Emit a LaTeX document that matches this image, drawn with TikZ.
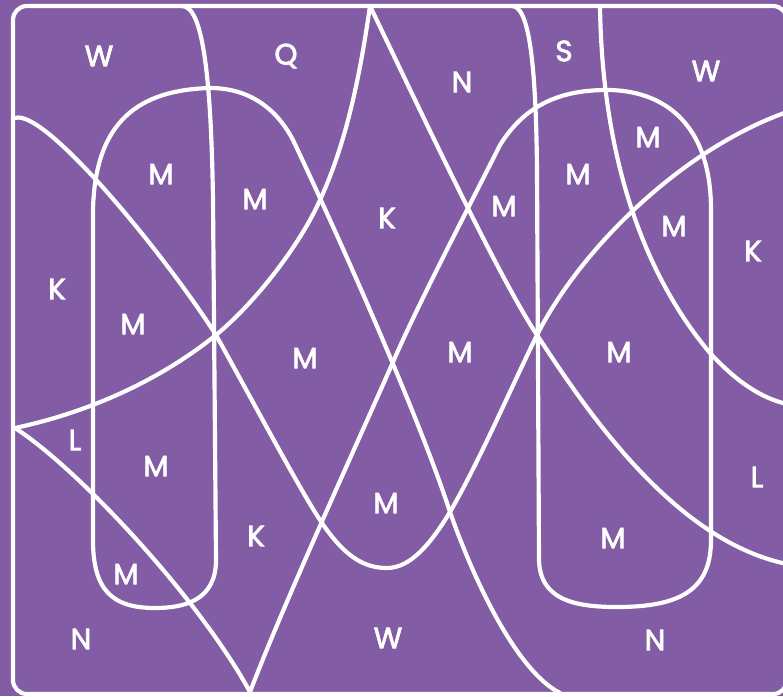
\documentclass[tikz,border=0pt]{standalone}
\usepackage{fontspec}
\setmainfont{Poppins}
\newfontfamily\regionfont{Poppins}[FakeBold=2.5]
\definecolor{mapviolet}{RGB}{130,92,164}
\tikzset{
  border/.style={white,line width=0.125cm,line join=round,line cap=round},
  region/.style={text=white,inner sep=0pt,font=\regionfont\fontsize{25}{29}\selectfont},
}
\begin{document}
\begin{tikzpicture}[x=0.03cm,y=-0.03cm]
\clip (0,0) rectangle (783,696);
\fill[mapviolet] (0,0) rectangle (783,696);
\draw[border,rounded corners=0.42cm] (13,6) rectangle (787,694);
% left loop and its long diagonal
\draw[border] (182,6) .. controls (202,6) and (211,70) .. (213,200) -- (216,560)
  .. controls (216,600) and (185,608) .. (155,608)
  .. controls (112,608) and (93,590) .. (93,540) -- (93,210)
  .. controls (95,120) and (140,90) .. (210,88)
  .. controls (255,88) and (280,115) .. (293,140)
  .. controls (345,250) and (420,420) .. (450,512)
  .. controls (472,575) and (515,670) .. (560,693);
% right loop and its long diagonal
\draw[border] (512,6) .. controls (530,6) and (536,70) .. (537,170) -- (539,560)
  .. controls (540,600) and (575,607) .. (617,607)
  .. controls (680,607) and (711,590) .. (711,540) -- (711,210)
  .. controls (711,120) and (660,90) .. (607,90)
  .. controls (560,90) and (525,105) .. (500,145)
  .. controls (470,205) and (420,300) .. (393,362)
  .. controls (366,424) and (285,600) .. (250,692);
% valley
\draw[border] (15,118) .. controls (45,108) and (165,255) .. (216,335)
  .. controls (250,396) and (300,490) .. (320,520)
  .. controls (345,558) and (365,568) .. (387,568)
  .. controls (410,568) and (430,545) .. (450,512)
  .. controls (480,460) and (510,390) .. (537,335)
  .. controls (580,250) and (680,150) .. (787,112);
% peak
\draw[border] (15,428) .. controls (90,412) and (160,380) .. (216,335)
  .. controls (255,303) and (300,245) .. (320,200)
  .. controls (343,150) and (358,90) .. (370,6);
\draw[border] (370,6) .. controls (420,110) and (498,276) .. (537,335)
  .. controls (580,400) and (670,540) .. (787,564);
% lower left edge
\draw[border] (15,428) .. controls (80,470) and (200,600) .. (250,692);
% right arc
\draw[border] (600,6) .. controls (602,150) and (640,270) .. (710,353)
  .. controls (735,380) and (760,398) .. (787,404);
% labels
\node[region] (w1) at (99,56) {W};
\node[region] (q) at (286,56) {Q};
\node[region] (n1) at (462,82) {N};
\node[region] (s) at (564,51) {S};
\node[region] (w2) at (706,71) {W};
\node[region] (m1) at (161,174) {M};
\node[region] (m2) at (255,199) {M};
\node[region] (k1) at (387,218) {K};
\node[region] (m3) at (504,206) {M};
\node[region] (m4) at (578,174) {M};
\node[region] (m5) at (648,137) {M};
\node[region] (m6) at (674,226) {M};
\node[region] (k2) at (753,251) {K};
\node[region] (k3) at (57,289) {K};
\node[region] (m7) at (133,324) {M};
\node[region] (m8) at (305,358) {M};
\node[region] (m9) at (460,352) {M};
\node[region] (m10) at (619,352) {M};
\node[region] (l1) at (75,440) {L};
\node[region] (m11) at (156,466) {M};
\node[region] (m12) at (386,503) {M};
\node[region] (l2) at (757,477) {L};
\node[region] (k4) at (256,536) {K};
\node[region] (m13) at (613,538) {M};
\node[region] (m14) at (126,574) {M};
\node[region] (n2) at (81,639) {N};
\node[region] (w3) at (388,638) {W};
\node[region] (n3) at (655,640) {N};
\end{tikzpicture}
\end{document}
